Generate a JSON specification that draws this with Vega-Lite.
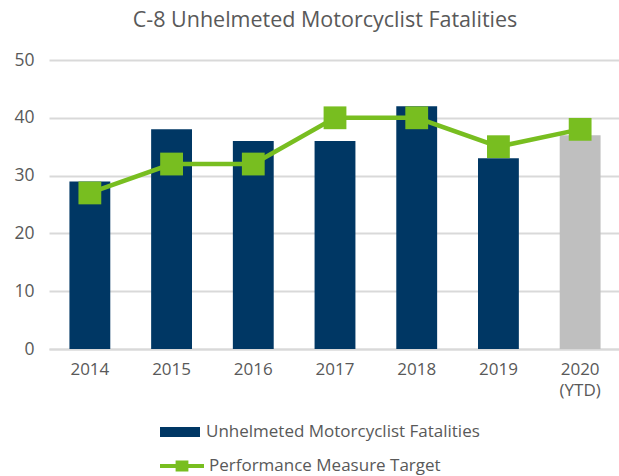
{
  "$schema": "https://vega.github.io/schema/vega-lite/v6.json",
  "autosize": "none",
  "width": 572,
  "height": 289,
  "padding": {"left": 49, "top": 60, "right": 0, "bottom": 127},
  "background": "white",
  "title": {
    "text": "C-8 Unhelmeted Motorcyclist Fatalities",
    "font": "Open Sans",
    "fontSize": 21.5,
    "fontWeight": "normal",
    "color": "#595959",
    "anchor": "middle",
    "frame": "group",
    "dx": -10,
    "offset": 20
  },
  "config": {
    "view": {"stroke": null},
    "font": "Open Sans"
  },
  "data": {
    "values": [
      {"year": "2014", "fatalities": 29, "target": 27, "type": "Unhelmeted Motorcyclist Fatalities", "series": "Performance Measure Target"},
      {"year": "2015", "fatalities": 38, "target": 32, "type": "Unhelmeted Motorcyclist Fatalities", "series": "Performance Measure Target"},
      {"year": "2016", "fatalities": 36, "target": 32, "type": "Unhelmeted Motorcyclist Fatalities", "series": "Performance Measure Target"},
      {"year": "2017", "fatalities": 36, "target": 40, "type": "Unhelmeted Motorcyclist Fatalities", "series": "Performance Measure Target"},
      {"year": "2018", "fatalities": 42, "target": 40, "type": "Unhelmeted Motorcyclist Fatalities", "series": "Performance Measure Target"},
      {"year": "2019", "fatalities": 33, "target": 35, "type": "Unhelmeted Motorcyclist Fatalities", "series": "Performance Measure Target"},
      {"year": "2020 (YTD)", "fatalities": 37, "target": 38, "type": "YTD", "series": "Performance Measure Target"}
    ]
  },
  "encoding": {
    "x": {
      "field": "year",
      "type": "nominal",
      "sort": null,
      "scale": {"paddingInner": 0.5, "paddingOuter": 0.25},
      "axis": {
        "title": null,
        "labelAngle": 0,
        "labelFont": "Open Sans",
        "labelFontSize": 17,
        "labelColor": "#595959",
        "labelPadding": 12,
        "labelLineHeight": 21,
        "labelExpr": "datum.label == '2020 (YTD)' ? ['2020', '(YTD)'] : datum.label",
        "ticks": false,
        "domainColor": "#D9D9D9",
        "domainWidth": 2,
        "grid": false
      }
    }
  },
  "layer": [
    {
      "mark": {"type": "bar"},
      "encoding": {
        "y": {
          "field": "fatalities",
          "type": "quantitative",
          "scale": {"domain": [0, 50]},
          "axis": {
            "title": null,
            "values": [0, 10, 20, 30, 40, 50],
            "labelFont": "Open Sans",
            "labelFontSize": 17.5,
            "labelColor": "#595959",
            "labelPadding": 15,
            "ticks": false,
            "domain": false,
            "gridColor": "#D9D9D9",
            "gridWidth": 2
          }
        },
        "color": {
          "field": "type",
          "type": "nominal",
          "scale": {"domain": ["Unhelmeted Motorcyclist Fatalities", "YTD"], "range": ["#003764", "#BFBFBF"]},
          "legend": {
            "title": null,
            "values": ["Unhelmeted Motorcyclist Fatalities"],
            "orient": "none",
            "legendX": 111,
            "legendY": 352,
            "symbolType": "M-1,-0.25H1V0.25H-1Z",
            "symbolSize": 1600,
            "symbolStrokeWidth": 0,
            "labelFont": "Open Sans",
            "labelFontSize": 17,
            "labelLimit": 400,
            "labelColor": "#595959",
            "labelOffset": 6
          }
        }
      }
    },
    {
      "mark": {"type": "line", "strokeWidth": 4.5, "point": {"shape": "square", "size": 520, "filled": true, "opacity": 1}},
      "encoding": {
        "y": {"field": "target", "type": "quantitative"},
        "color": {
          "field": "series",
          "type": "nominal",
          "scale": {"range": ["#78BE20"]},
          "legend": {
            "title": null,
            "orient": "none",
            "legendX": 109,
            "legendY": 382,
            "symbolType": "M-1,0H1M-0.2,-0.16H0.2V0.16H-0.2Z",
            "symbolSize": 1936,
            "symbolStrokeWidth": 4,
            "symbolStrokeColor": "#78BE20",
            "symbolFillColor": "#78BE20",
            "symbolOpacity": 1,
            "labelFont": "Open Sans",
            "labelFontSize": 17,
            "labelLimit": 400,
            "labelColor": "#595959",
            "labelOffset": 3
          }
        }
      }
    }
  ],
  "resolve": {"scale": {"color": "independent"}}
}
